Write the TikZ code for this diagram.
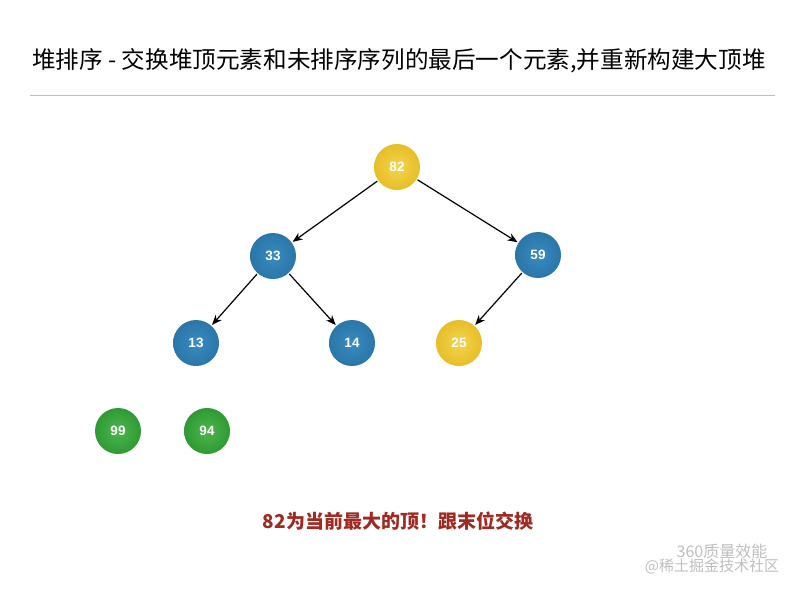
\documentclass[tikz,border=0pt]{standalone}
\usepackage{fontspec}
\setmainfont{Noto Sans CJK SC}
\newfontfamily\numfont{Liberation Sans}
\definecolor{hpyellow}{HTML}{E6BE28}
\definecolor{hpyellowlt}{HTML}{F2D64E}
\definecolor{hpblue}{HTML}{2A76A8}
\definecolor{hpbluelt}{HTML}{3A8BC0}
\definecolor{hpgreen}{HTML}{2F9A34}
\definecolor{hpgreenlt}{HTML}{4CB54E}
\definecolor{hpred}{HTML}{9E2A22}
\definecolor{rulegray}{HTML}{BDBDBD}
\usetikzlibrary{arrows.meta}
\tikzset{
  heapnode/.style={circle, minimum size=46pt, inner sep=0pt, text=white,
    font=\numfont\bfseries\fontsize{13.5}{15}\selectfont},
  ynode/.style={heapnode, inner color=hpyellowlt, outer color=hpyellow},
  bnode/.style={heapnode, inner color=hpbluelt, outer color=hpblue},
  gnode/.style={heapnode, inner color=hpgreenlt, outer color=hpgreen},
  edge/.style={draw=black, line width=1.2pt, -{Stealth[length=10pt,width=8pt]}, shorten <=1pt, shorten >=1pt},
}
\begin{document}
\begin{tikzpicture}[x=1pt,y=-1pt]
\useasboundingbox (0,0) rectangle (800,590);
\fill[white] (0,0) rectangle (800,590);
\node (title) at (399,61) {\fontsize{23.6}{27}\selectfont 堆排序 - 交换堆顶元素和未排序序列的最后一个元素,并重新构建大顶堆};
\coordinate (ruleL) at (30,95);
\coordinate (ruleR) at (775,95);
\draw[rulegray, line width=1pt] (ruleL) -- (ruleR);

\node[ynode] (n82) at (397,167) {82};
\node[bnode] (n33) at (273,256) {33};
\node[bnode] (n59) at (538,255) {59};
\node[bnode] (n13) at (196,343) {13};
\node[bnode] (n14) at (352,343) {14};
\node[ynode] (n25) at (459,343) {25};
\node[gnode] (n99) at (118,431) {99};
\node[gnode] (n94) at (207,431) {94};

\draw[edge] (n82) -- (n33);
\draw[edge] (n82) -- (n59);
\draw[edge] (n33) -- (n13);
\draw[edge] (n33) -- (n14);
\draw[edge] (n59) -- (n25);

\node[text=hpred, font=\bfseries\fontsize{19}{22}\selectfont] (note) at (398,521) {82为当前最大的顶！跟末位交换};

\node[text=black!25, font=\fontsize{16}{18}\selectfont] (wm1) at (722,551) {360质量效能};
\node[text=black!25, font=\fontsize{15}{17}\selectfont] (wm2) at (712,566) {@稀土掘金技术社区};
\end{tikzpicture}
\end{document}
